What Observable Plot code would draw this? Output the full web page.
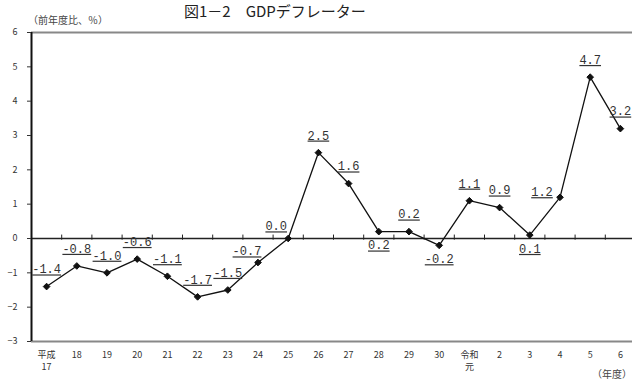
<!DOCTYPE html>
<html><head><meta charset="utf-8">
<script src="https://cdn.jsdelivr.net/npm/d3@7"></script>
<script src="https://cdn.jsdelivr.net/npm/@observablehq/plot@0.6"></script>
<style>
body{margin:0;overflow:hidden;background:#fff;}
#wrap{position:relative;width:632px;height:383px;overflow:hidden;font-family:"Noto Sans CJK JP",sans-serif;}
.t{position:absolute;white-space:nowrap;color:#222;}
#chart{position:absolute;left:0;top:0;}
g[aria-label="text"] text{text-decoration:underline;}
</style></head><body>
<div id="wrap">
  <div id="chart"></div>
  <div class="t" style="left:184px;top:2px;font-size:15px;line-height:18px;">図1－2　GDPデフレーター</div>
  <div class="t" style="left:28px;top:14px;font-size:10px;line-height:12px;color:#444;">（前年度比、％）</div>
  <div class="t" style="left:592px;top:368px;font-size:10px;line-height:12px;color:#444;">（年度）</div>
</div>
<script>
const categories = ["平成\n17","18","19","20","21","22","23","24","25","26","27","28","29","30","令和\n元","2","3","4","5","6"];
const values = [-1.4,-0.8,-1.0,-0.6,-1.1,-1.7,-1.5,-0.7,0.0,2.5,1.6,0.2,0.2,-0.2,1.1,0.9,0.1,1.2,4.7,3.2];
const yTicks = [-3,-2,-1,0,1,2,3,4,5,6];

const data = values.map((v, i) => ({i, cat: categories[i], v}));
const boundaries = d3.range(categories.length - 1).map(i => i + 0.5);

// label placement groups (styling only)
const belowLabels = ["28","30","3"];
const specialLabels = {"24": [-11, -11], "25": [-12, -12], "4": [-18, -5]};

const labelStyle = {fontFamily: "Liberation Mono, monospace", fontSize: 12, fill: "#333"};
function labelMark(filter, dx, dy) {
  return Plot.text(data, {filter, x: "i", y: "v", text: d => d.v.toFixed(1), dx, dy, ...labelStyle});
}

const isNormal = d => !belowLabels.includes(d.cat) && !(d.cat in specialLabels);

const chart = Plot.plot({
  width: 632, height: 383,
  marginLeft: 31, marginRight: 0, marginTop: 32, marginBottom: 42,
  style: {fontFamily: "Noto Sans CJK JP, sans-serif", background: "transparent"},
  x: {domain: [-0.5, categories.length - 0.5], range: [31, 635]},
  y: {domain: [-3, 6]},
  marks: [
    Plot.ruleY([6], {stroke: "#888", strokeWidth: 2}),
    Plot.ruleY([-3], {stroke: "#888", strokeWidth: 2}),
    Plot.ruleY([0], {stroke: "#222", strokeWidth: 1.5}),
    Plot.ruleX(boundaries, {x: d => d, y1: -0.05, y2: 0.1, stroke: "#222", strokeWidth: 1}),
    Plot.ruleX([-0.5], {stroke: "#111", strokeWidth: 2}),
    Plot.axisY(yTicks, {tickSize: 4, tickPadding: 10, fontSize: 9, label: null, color: "#333"}),
    Plot.axisX(d3.range(categories.length), {tickFormat: i => categories[i], tickSize: 0, tickPadding: 8, fontSize: 9, lineHeight: 1.35, label: null, color: "#333"}),
    Plot.line(data, {x: "i", y: "v", stroke: "#111", strokeWidth: 1.3}),
    Plot.dot(data, {x: "i", y: "v", symbol: "diamond2", fill: "#111", stroke: "#111", strokeWidth: 1, r: 3}),
    labelMark(isNormal, 0, -17),
    labelMark(d => belowLabels.includes(d.cat), 0, 14),
    ...Object.entries(specialLabels).map(([c, [dx, dy]]) => labelMark(d => d.cat === c, dx, dy))
  ]
});
document.getElementById("chart").appendChild(chart);
</script>
</body></html>
